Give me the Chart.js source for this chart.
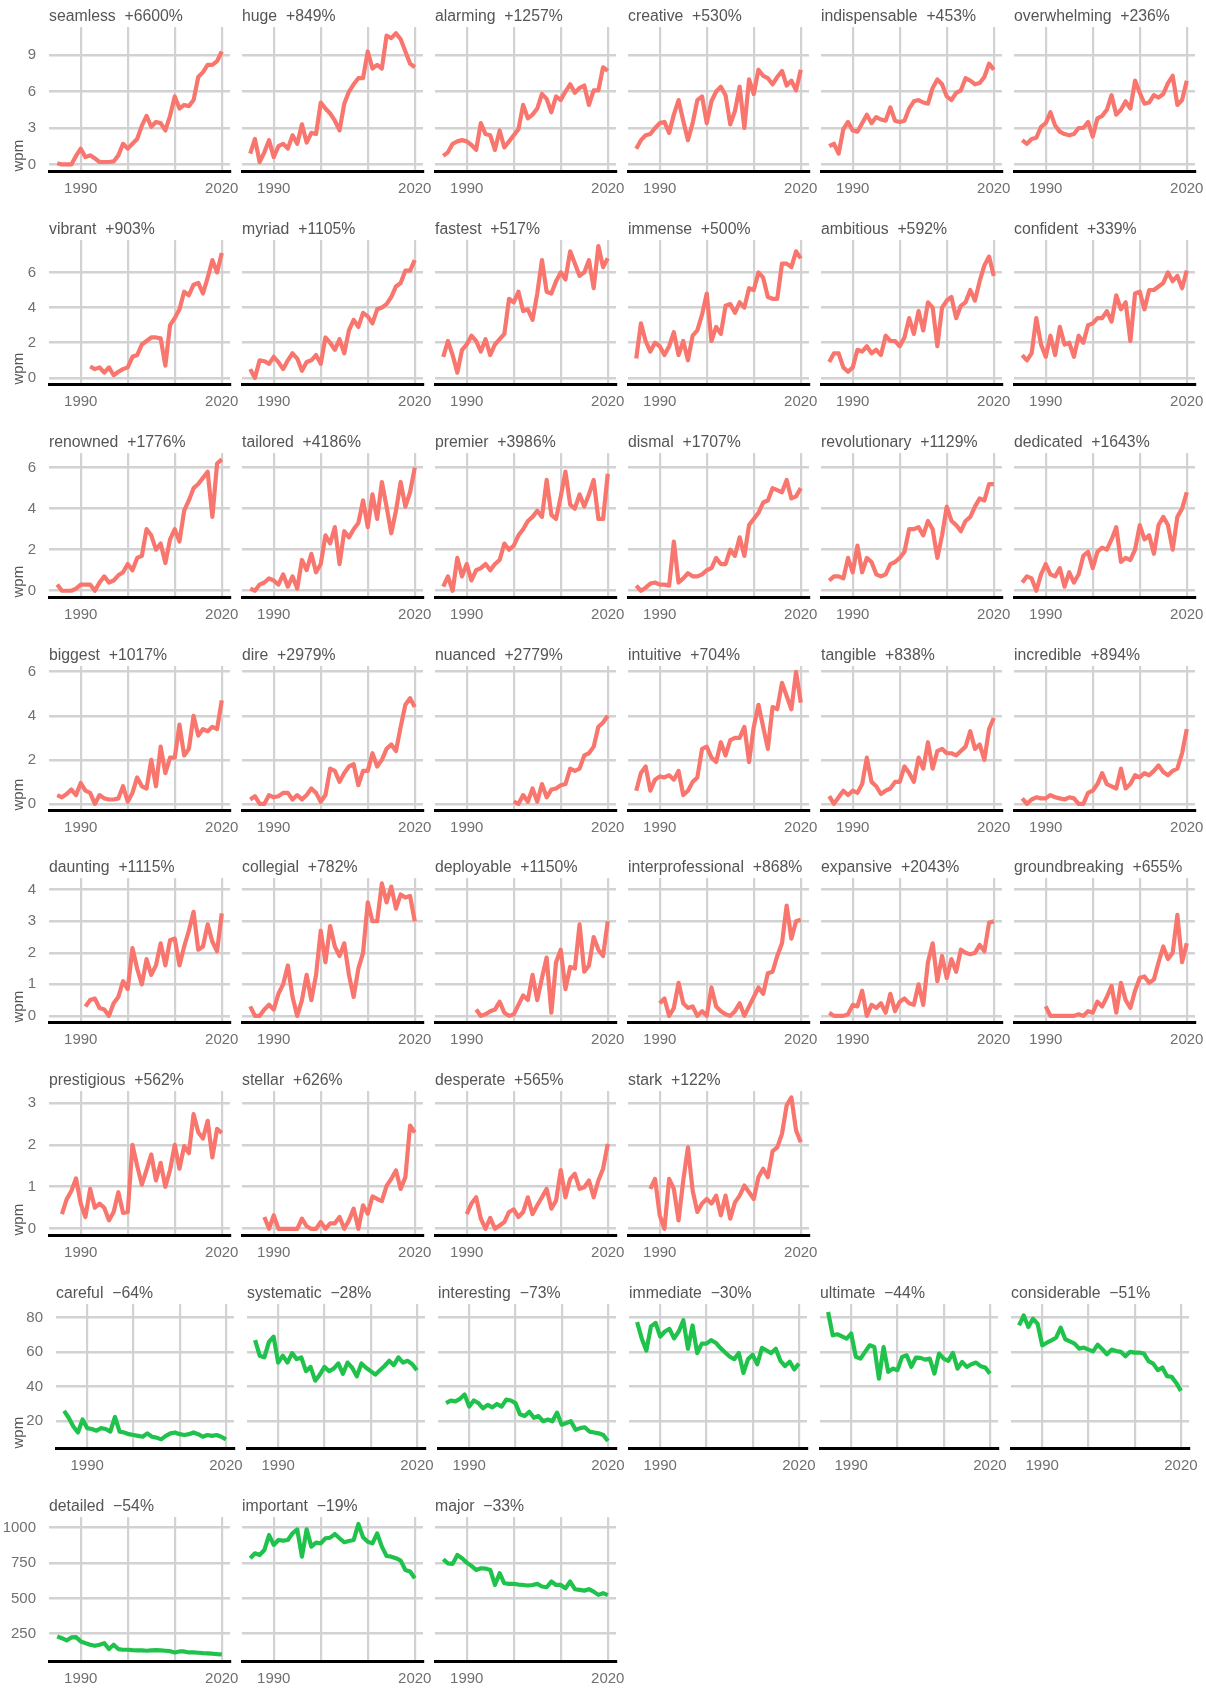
<!DOCTYPE html>
<html>
<head>
<meta charset="utf-8">
<script src="https://cdn.jsdelivr.net/npm/chart.js@4.4.1/dist/chart.umd.min.js"></script>
<style>
  html, body { margin: 0; padding: 0; background: #fff; }
  #page { position: relative; width: 1206px; height: 1689px; overflow: hidden; background: #fff; }
  #page canvas { position: absolute; }
</style>
</head>
<body>
<div id="page"></div>
<script>
/* words per minute, yearly, 1985-2020 (null = no data yet) */
const YEARS = [1985,1986,1987,1988,1989,1990,1991,1992,1993,1994,1995,1996,1997,1998,1999,2000,
  2001,2002,2003,2004,2005,2006,2007,2008,2009,2010,2011,2012,2013,2014,2015,2016,2017,2018,2019,2020];
const X_TICKS = [1990, 2000, 2010, 2020];
const X_LABELS = ["1990", "", "", "2020"];

const ROW_WORDS = [
  ["seamless", "huge", "alarming", "creative", "indispensable", "overwhelming"],
  ["vibrant", "myriad", "fastest", "immense", "ambitious", "confident"],
  ["renowned", "tailored", "premier", "dismal", "revolutionary", "dedicated"],
  ["biggest", "dire", "nuanced", "intuitive", "tangible", "incredible"],
  ["daunting", "collegial", "deployable", "interprofessional", "expansive", "groundbreaking"],
  ["prestigious", "stellar", "desperate", "stark"],
  ["careful", "systematic", "interesting", "immediate", "ultimate", "considerable"],
  ["detailed", "important", "major"]
];
const ROW_CHANGES = [
  ["+6600%", "+849%", "+1257%", "+530%", "+453%", "+236%"],
  ["+903%", "+1105%", "+517%", "+500%", "+592%", "+339%"],
  ["+1776%", "+4186%", "+3986%", "+1707%", "+1129%", "+1643%"],
  ["+1017%", "+2979%", "+2779%", "+704%", "+838%", "+894%"],
  ["+1115%", "+782%", "+1150%", "+868%", "+2043%", "+655%"],
  ["+562%", "+626%", "+565%", "+122%"],
  ["\u221264%", "\u221228%", "\u221273%", "\u221230%", "\u221244%", "\u221251%"],
  ["\u221254%", "\u221219%", "\u221233%"]
];
const ROW_Y_TICKS = [
  [0, 3, 6, 9], [0, 2, 4, 6], [0, 2, 4, 6], [0, 2, 4, 6],
  [0, 1, 2, 3, 4], [0, 1, 2, 3], [20, 40, 60, 80], [250, 500, 750, 1000]
];

const seamless = [0.1,0,0,0,0.7,1.3,0.6,0.75,0.5,0.2,0.2,0.2,0.25,0.75,1.7,1.3,1.7,2.1,3.2,4.0,3.1,3.5,3.4,2.8,4.0,5.6,4.6,4.9,4.8,5.3,7.2,7.6,8.2,8.2,8.5,9.3];
const huge = [0.9,2.1,0.2,1.0,2.0,0.6,1.5,1.7,1.3,2.4,1.7,3.3,1.8,2.6,2.5,5.1,4.6,4.2,3.6,2.8,5.0,6.0,6.6,7.1,7.1,9.3,7.9,8.2,7.9,10.6,10.4,10.8,10.3,9.3,8.3,8.0];
const alarming = [0.7,1.0,1.7,1.9,2.0,1.9,1.6,1.2,3.4,2.5,2.4,1.2,2.8,1.4,1.9,2.4,2.9,4.9,3.8,4.1,4.6,5.8,5.4,4.3,5.6,5.3,6.0,6.6,5.9,6.3,6.5,4.9,6.1,6.1,8.0,7.7];
const creative = [1.3,2.0,2.4,2.5,3.0,3.4,3.5,2.6,4.1,5.3,3.6,2.0,3.4,5.3,5.6,3.4,5.2,6.0,6.4,5.7,3.3,4.4,6.4,3.0,7.0,5.8,7.8,7.3,7.1,6.6,7.2,7.7,6.5,6.9,6.1,7.8];
const indispensable = [1.5,1.7,0.9,2.9,3.5,2.8,2.7,3.4,4.1,3.4,3.9,3.7,3.6,4.7,3.6,3.5,3.6,4.6,5.2,5.3,5.1,5.0,6.3,7.0,6.6,5.6,5.3,5.9,6.1,7.1,6.9,6.6,6.7,7.2,8.3,7.8];
const overwhelming = [2.0,1.7,2.1,2.2,3.1,3.4,4.3,3.2,2.7,2.5,2.4,2.5,3.0,3.0,3.5,2.3,3.8,4.0,4.5,5.7,4.1,4.5,5.2,4.6,6.9,5.9,5.0,5.1,5.7,5.5,5.8,6.7,7.3,4.9,5.3,6.9];

const vibrant = [null,null,null,null,null,null,null,0.65,0.5,0.6,0.3,0.6,0.15,0.35,0.5,0.6,1.2,1.3,1.9,2.1,2.3,2.3,2.25,0.7,3.0,3.4,3.9,4.9,4.7,5.3,5.4,4.8,5.7,6.7,6.0,7.1];
const myriad = [0.5,0.0,1.0,0.95,0.8,1.2,0.9,0.5,1.0,1.4,1.1,0.4,0.9,1.0,1.3,0.8,2.3,2.0,1.6,2.2,1.4,2.7,3.3,2.9,3.7,3.5,3.1,3.9,4.0,4.2,4.6,5.2,5.4,6.1,6.1,6.7];
const fastest = [1.2,2.1,1.3,0.3,1.6,1.9,2.4,2.1,1.5,2.2,1.3,1.9,2.2,2.5,4.5,4.3,4.9,3.8,3.9,3.3,4.8,6.7,4.9,4.8,5.5,6.0,5.6,7.2,6.5,5.8,6.0,6.7,5.1,7.5,6.3,6.8];
const immense = [1.1,3.1,2.1,1.5,2.0,1.8,1.3,1.8,2.6,1.3,2.1,1.0,2.4,2.7,3.6,4.8,2.1,2.9,2.5,4.1,4.2,3.7,4.3,4.0,5.1,5.0,6.0,5.7,4.6,4.5,4.5,6.5,6.5,6.3,7.2,6.8];
const ambitious = [0.9,1.4,1.4,0.6,0.35,0.6,1.6,1.5,1.8,1.4,1.6,1.3,2.4,2.1,2.1,1.8,2.3,3.4,2.5,3.8,2.7,4.3,4.0,1.8,4.0,4.4,4.6,3.4,4.1,4.3,5.0,4.4,5.5,6.4,6.9,5.8];
const confident = [1.3,1.0,1.4,3.4,1.9,1.2,2.4,1.3,2.9,1.9,2.0,1.2,2.4,2.0,3.0,3.1,3.4,3.4,3.8,3.2,4.7,3.9,4.3,2.1,4.8,4.9,3.9,5.0,5.0,5.2,5.4,6.0,5.5,5.8,5.1,6.1];

const renowned = [0.3,0.0,0.0,0.0,0.1,0.3,0.3,0.3,0.0,0.4,0.7,0.4,0.5,0.75,0.9,1.3,1.0,1.6,1.7,3.0,2.7,2.0,2.3,1.35,2.5,3.0,2.4,3.9,4.4,5.0,5.2,5.5,5.8,3.6,6.2,6.4];
const tailored = [0.1,0.0,0.3,0.4,0.6,0.5,0.3,0.8,0.2,0.7,0.1,1.5,1.0,1.8,0.9,1.3,2.7,2.3,3.1,1.3,2.9,2.6,3.0,3.3,4.4,3.1,4.7,3.5,5.3,4.1,2.8,3.9,5.3,4.1,4.8,6.0];
const premier = [0.2,0.7,0.0,1.6,0.7,1.3,0.5,1.0,1.1,1.3,1.0,1.3,1.5,2.3,2.0,2.2,2.7,3.0,3.4,3.6,3.9,3.6,5.4,3.7,3.5,4.6,5.8,4.2,4.0,4.7,4.1,4.7,5.4,3.5,3.5,5.7];
const dismal = [0.25,0.0,0.15,0.35,0.4,0.3,0.3,0.25,2.4,0.4,0.6,0.85,0.7,0.7,0.8,1.0,1.1,1.6,1.3,1.3,2.0,1.7,2.6,1.7,3.2,3.5,3.8,4.3,4.4,5.0,4.9,4.8,5.4,4.5,4.6,5.0];
const revolutionary = [0.5,0.7,0.7,0.6,1.6,0.9,2.2,0.9,1.6,1.4,0.8,0.7,0.8,1.3,1.4,1.6,1.9,3.0,3.0,3.1,2.7,3.4,3.0,1.6,2.7,4.1,3.4,3.2,2.9,3.4,3.6,4.1,4.5,4.4,5.2,5.2];
const dedicated = [0.4,0.7,0.6,0.0,0.8,1.3,0.8,0.7,1.1,0.2,0.9,0.4,0.8,1.7,1.9,1.1,1.9,2.1,2.0,2.5,3.1,1.4,1.6,1.5,2.0,3.2,2.5,2.7,1.8,3.2,3.6,3.2,2.0,3.6,4.0,4.8];

const biggest = [0.4,0.3,0.45,0.65,0.4,0.95,0.6,0.5,0.0,0.4,0.25,0.2,0.2,0.25,0.8,0.1,0.5,1.2,0.8,0.7,2.0,0.8,2.6,1.4,2.1,2.1,3.6,2.2,2.5,4.0,3.1,3.4,3.3,3.5,3.4,4.7];
const dire = [0.2,0.35,0.0,0.0,0.4,0.3,0.35,0.5,0.5,0.2,0.4,0.2,0.4,0.7,0.5,0.1,0.4,1.6,1.5,1.0,1.4,1.7,1.8,0.85,1.5,1.5,2.3,1.7,2.0,2.5,2.7,2.4,3.5,4.5,4.8,4.4];
const nuanced = [null,null,null,null,null,null,null,null,null,null,null,null,null,null,null,0.1,0.0,0.4,0.1,0.7,0.1,0.9,0.3,0.65,0.7,0.85,0.9,1.6,1.5,1.6,2.2,2.3,2.6,3.5,3.7,4.0];
const intuitive = [0.6,1.4,1.7,0.6,1.1,1.25,1.2,1.3,1.1,1.5,0.4,0.6,1.0,1.2,2.5,2.6,2.1,1.9,2.8,2.2,2.9,3.0,3.0,3.5,1.9,3.5,4.5,3.5,2.5,4.4,4.3,5.5,4.9,4.3,6.0,4.6];
const tangible = [0.35,0.0,0.3,0.6,0.4,0.6,0.5,0.9,2.1,1.0,0.8,0.45,0.6,0.7,1.0,1.0,1.7,1.4,1.0,2.1,1.6,2.8,1.6,2.4,2.5,2.3,2.3,2.2,2.4,2.6,3.3,2.5,2.7,2.0,3.4,3.9];
const incredible = [0.25,0.0,0.2,0.3,0.25,0.25,0.4,0.3,0.25,0.2,0.3,0.25,0.0,0.0,0.5,0.6,0.9,1.4,0.9,0.8,0.7,1.6,0.7,0.9,1.3,1.2,1.4,1.3,1.5,1.75,1.45,1.3,1.5,1.6,2.3,3.4];

const daunting = [null,null,null,null,null,null,0.3,0.5,0.55,0.25,0.2,0.0,0.4,0.6,1.1,0.85,2.15,1.5,1.0,1.8,1.3,1.6,2.3,1.6,2.4,2.45,1.6,2.2,2.7,3.3,2.1,2.2,2.9,2.35,2.05,3.25];
const collegial = [0.3,0.0,0.0,0.2,0.35,0.2,0.7,1.0,1.6,0.6,0.0,0.5,1.3,0.5,1.3,2.7,1.7,2.85,2.2,1.9,2.3,1.3,0.6,1.5,2.0,3.6,3.0,3.0,4.2,3.6,4.1,3.4,3.85,3.75,3.8,3.0];
const deployable = [null,null,null,null,null,null,null,0.2,0.0,0.05,0.15,0.2,0.45,0.1,0.0,0.05,0.35,0.65,0.5,1.3,0.5,1.2,1.85,0.1,1.7,2.1,0.85,1.55,1.5,2.9,1.4,1.6,2.5,2.1,1.9,3.0];
const interprofessional = [null,null,null,null,null,0.4,0.55,0.0,0.25,1.05,0.4,0.25,0.3,0.0,0.15,0.0,0.9,0.3,0.15,0.05,0.0,0.15,0.4,0.0,0.3,0.6,0.9,0.7,1.35,1.4,1.9,2.3,3.5,2.45,3.0,3.05];
const expansive = [0.1,0.0,0.0,0.0,0.05,0.35,0.3,0.8,0.0,0.35,0.25,0.4,0.1,0.7,0.15,0.45,0.55,0.4,0.35,1.0,0.35,1.7,2.3,1.1,1.9,1.2,1.8,1.4,2.1,2.0,1.95,2.0,2.25,2.05,2.95,3.0];
const groundbreaking = [null,null,null,null,null,0.3,0.0,0.0,0.0,0.0,0.0,0.0,0.05,0.0,0.15,0.1,0.45,0.3,0.6,0.95,0.1,1.05,0.5,0.25,0.8,1.2,1.25,1.05,1.15,1.7,2.2,1.8,2.0,3.2,1.7,2.3];

const prestigious = [null,0.35,0.7,0.9,1.2,0.6,0.28,0.95,0.5,0.6,0.5,0.2,0.4,0.87,0.38,0.4,2.0,1.5,1.05,1.4,1.77,1.15,1.57,1.0,1.4,2.0,1.43,1.97,1.8,2.73,2.3,2.15,2.57,1.7,2.38,2.28];
const stellar = [null,null,null,0.28,0.0,0.32,0.0,0.0,0.0,0.0,0.0,0.24,0.06,0.0,0.0,0.16,0.0,0.13,0.13,0.28,0.0,0.2,0.48,0.0,0.56,0.36,0.77,0.71,0.66,1.02,1.19,1.39,0.95,1.23,2.46,2.29];
const desperate = [null,null,null,null,null,0.35,0.6,0.75,0.24,0.0,0.26,0.0,0.08,0.16,0.4,0.46,0.28,0.4,0.75,0.35,0.56,0.75,0.95,0.48,0.67,1.4,0.75,1.19,1.31,0.95,0.99,1.15,0.75,1.15,1.43,2.02];
const stark = [null,null,null,0.95,1.19,0.32,0.0,1.19,0.95,0.2,1.15,1.94,0.91,0.4,0.6,0.71,0.6,0.79,0.32,0.79,0.24,0.63,0.79,1.03,0.87,0.71,1.23,1.43,1.23,1.85,1.94,2.26,2.94,3.13,2.34,2.06];

const careful = [26,22,17,13.5,21,16,15.5,14.5,16,15.5,14,22.5,14,13.5,12.5,12,11.5,11,13,11,10.5,9.5,11.5,13,13.5,12.5,12,12.5,13.5,12.5,11,12,11.5,12,11,9.5];
const systematic = [67,58,57,66,69,54,58,54,59.5,56,57,49,51.5,43.5,47,51.5,49,50.5,53.5,47.5,54,51,46,53.5,51,49,47,49.5,52,55,52.5,57,54,55,53,49.5];
const interesting = [30.5,32,31.5,33,35.5,28.5,32,30.5,27.5,29.5,28,30,28.5,32.5,32,30.5,24,23,25.5,22,23,20,21,20,25,18,19,20,15,16,16.5,14,13.5,13,12,8.5];
const immediate = [77.5,68,61,75,77,69,72,73.5,68,72,78.5,62,75.5,59.5,65,65,67,65.5,62.5,60,57.5,56,59.5,48,56,58.5,53,62.5,61,59.5,62,55,52,54.5,50,53.5];
const ultimate = [83.3,69.8,70.4,69.2,67.9,70.8,57.3,56.3,60.2,64,63,44.7,63,48.6,50.5,49.6,57.3,58.2,51.5,56.9,56.7,55.7,56.3,47.6,59.2,56.3,55,59.6,50.5,54.4,51.5,53,54,51.9,51.1,47.6];
const considerable = [75.6,81.3,74.6,79.4,76.5,64,65.5,66.9,68.4,74.2,67.5,66.3,65,62.1,62.7,61.5,60.5,64.4,61.7,58.8,61.5,60.7,60.2,57.6,60.2,59.8,59.8,59.2,54.8,53.4,49.6,51.1,46.1,45.7,42.2,37.6];

const detailed = [231,219,203,224,226,196,184,172,165,172,184,142,172,142,137,137,134,132,132,130,132,134,132,130,127,118,125,125,118,118,116,113,111,109,106,104];
const important = [784,819,807,842,948,878,913,908,913,960,988,795,988,866,894,889,925,929,955,925,897,906,913,1026,932,901,889,960,866,800,795,784,767,701,690,642];
const major = [777,748,744,807,784,753,730,701,713,711,701,595,678,607,603,603,598,595,591,595,603,584,579,619,595,595,572,619,565,560,555,565,548,525,537,523];

const SERIES = {
  seamless, huge, alarming, creative, indispensable, overwhelming,
  vibrant, myriad, fastest, immense, ambitious, confident,
  renowned, tailored, premier, dismal, revolutionary, dedicated,
  biggest, dire, nuanced, intuitive, tangible, incredible,
  daunting, collegial, deployable, interprofessional, expansive, groundbreaking,
  prestigious, stellar, desperate, stark,
  careful, systematic, interesting, immediate, ultimate, considerable,
  detailed, important, major
};

// ---- layout / style ----
const RED = "#F8766D";
const GREEN = "#1FC24A";
const ROW_COLORS = [RED, RED, RED, RED, RED, RED, GREEN, GREEN];
const ROW_Y_RANGE = [
  [-0.58, 11.31], [-0.375, 7.84], [-0.33, 6.71], [-0.3, 6.26],
  [-0.21, 4.37], [-0.16, 3.28], [4.2, 87.9], [54, 1075]
];
const ROW_STEP = 212.85;
const CANVAS_H = 213;
const X_AXIS_H = 41.5;        // canvas bottom -> plot bottom
const SIDE_PAD = 26;
const LEFTS_STD = [49, 242, 435, 628, 821, 1014];
const LEFTS_R7 = [56, 247, 438, 629, 820, 1011];
const FONT = "'Liberation Sans', Arial, Helvetica, sans-serif";

Chart.defaults.font.family = FONT;
const page = document.getElementById("page");

ROW_WORDS.forEach((words, r) => {
  const top = Math.round(r * ROW_STEP);
  const lefts = r === 6 ? LEFTS_R7 : LEFTS_STD;
  const plotW = r === 6 ? 178 : 181;
  const yTicks = ROW_Y_TICKS[r];

  words.forEach((word, c) => {
    const first = c === 0;
    const plotLeft = lefts[c];
    const canvasLeft = first ? 0 : plotLeft - SIDE_PAD;
    const width = plotLeft - canvasLeft + plotW + SIDE_PAD;

    const cv = document.createElement("canvas");
    cv.width = width;
    cv.height = CANVAS_H;
    cv.style.left = canvasLeft + "px";
    cv.style.top = top + "px";
    cv.style.width = width + "px";
    cv.style.height = CANVAS_H + "px";
    page.appendChild(cv);

    const vals = SERIES[word];
    new Chart(cv, {
      type: "line",
      data: {
        datasets: [{
          data: YEARS.map((yr, i) => ({ x: yr, y: vals[i] })),
          borderColor: ROW_COLORS[r],
          borderWidth: 4.2,
          pointRadius: 0,
          borderJoinStyle: "round",
          tension: 0,
          spanGaps: false
        }]
      },
      options: {
        responsive: false,
        animation: false,
        events: [],
        layout: { padding: { left: first ? 0 : SIDE_PAD, right: SIDE_PAD, top: 0, bottom: 0 } },
        plugins: {
          legend: { display: false },
          tooltip: { enabled: false },
          title: {
            display: true,
            text: word + "  " + ROW_CHANGES[r][c],
            align: "start",
            fullSize: false,
            color: "#555555",
            font: { size: 15.8, weight: "normal", lineHeight: 1.2 },
            padding: { top: 7.3, bottom: 0.8 }
          }
        },
        scales: {
          x: {
            type: "linear",
            min: 1983.25,
            max: 2021.75,
            afterBuildTicks: (s) => { s.ticks = X_TICKS.map((v) => ({ value: v })); },
            afterFit: (s) => { s.height = X_AXIS_H; },
            ticks: {
              autoSkip: false,
              maxRotation: 0,
              padding: 8,
              color: "#707070",
              font: { size: 15 },
              callback: (v, i) => X_LABELS[i]
            },
            grid: { color: "#d2d2d2", lineWidth: 2.2, drawTicks: false },
            border: { display: true, color: "#000000", width: 3 }
          },
          y: {
            type: "linear",
            min: ROW_Y_RANGE[r][0],
            max: ROW_Y_RANGE[r][1],
            afterBuildTicks: (s) => { s.ticks = yTicks.map((v) => ({ value: v })); },
            afterFit: (s) => { s.width = first ? plotLeft : 0; },
            ticks: {
              display: first,
              padding: 13,
              color: "#707070",
              font: { size: 15 },
              callback: (v) => String(v)
            },
            grid: { color: "#d2d2d2", lineWidth: 2.6, drawTicks: false },
            border: { display: false },
            title: {
              display: first && r < 7,
              text: "wpm",
              align: "start",
              color: "#555555",
              font: { size: 15, lineHeight: 1.2 },
              padding: { top: 10, bottom: 0 }
            }
          }
        }
      }
    });
  });
});
</script>
</body>
</html>
